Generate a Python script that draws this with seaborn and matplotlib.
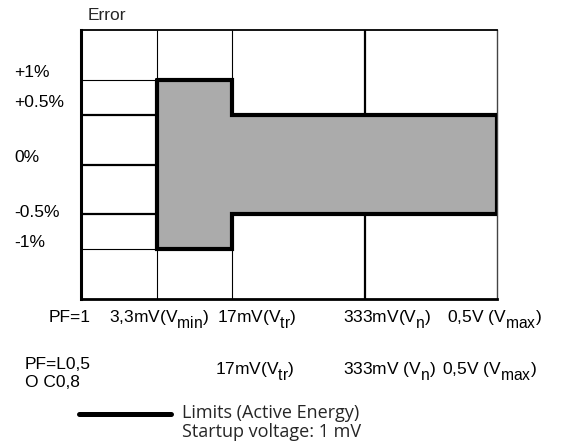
import numpy as np
import matplotlib
matplotlib.use("Agg")
import matplotlib.pyplot as plt
from matplotlib.lines import Line2D
import seaborn as sns

try:  # larger, lower subscripts, like the reference drawing
    import matplotlib._mathtext as _mt
    _mt.SHRINK_FACTOR = 0.9
    _mt.FontConstantsBase.sub1 = 0.75
    _mt.FontConstantsBase.subdrop = 0.6
except Exception:
    pass

# ---------------- data ----------------
voltages_mv = [1, 3.3, 17, 333, 500]          # startup, Vmin, Vtr, Vn, Vmax
error_levels = [-1.0, -0.5, 0.0, 0.5, 1.0]
error_labels = ["-1%", "-0.5%", "0%", "+0.5%", "+1%"]
limit_x = [3.3, 17, 500]                        # segment boundaries (mV)
limit_upper = [1.0, 0.5]                        # % upper limit per segment
limit_lower = [-1.0, -0.5]                      # % lower limit per segment
pf1_values = [1, 3.3, 17, 333, 500]
pf1_labels = ["PF=1", r"3,3mV(V$\mathregular{_{min}}$)", r"17mV(V$\mathregular{_{tr}}$)",
              r"333mV(V$\mathregular{_{n}}$)", r"0,5V (V$\mathregular{_{max}}$)"]
pf05_values = [1, 17, 333, 500]
pf05_labels = ["PF=L0,5\nO C0,8", r"17mV(V$\mathregular{_{tr}}$)",
               r"333mV (V$\mathregular{_{n}}$)", r"0,5V (V$\mathregular{_{max}}$)"]
legend_lines = ["Limits (Active Energy)", "Startup voltage: 1 mV"]

# ---------------- style ----------------
sns.set_theme(style="white")
plt.rcParams["font.family"] = ["Liberation Sans", "DejaVu Sans"]
plt.rcParams["mathtext.fontset"] = "custom"
plt.rcParams["mathtext.rm"] = "Liberation Sans"

W, H = 566, 447
fig = plt.figure(figsize=(W / 100, H / 100), dpi=100)
ax = fig.add_axes([81 / W, (H - 299) / H, 416 / W, 269 / H])


def piecewise(xp, fp):
    xp = np.asarray(xp, float)
    fp = np.asarray(fp, float)

    def f(x):
        x = np.asarray(x, float)
        y = np.interp(x, xp, fp)
        y = np.where(x < xp[0], fp[0] + (x - xp[0]) * (fp[1] - fp[0]) / (xp[1] - xp[0]), y)
        y = np.where(x > xp[-1], fp[-1] + (x - xp[-1]) * (fp[-1] - fp[-2]) / (xp[-1] - xp[-2]), y)
        return y
    return f


# non-uniform axis scales (schematic diagram)
x_knots, x_disp = voltages_mv, [0, 1, 2, 3.76, 5.5]
y_knots, y_disp = [-2, -1, -0.5, 0, 0.5, 1, 2], [-2.7, -1.7, -1, 0, 1, 1.7, 2.7]
ax.set_xscale("function", functions=(piecewise(x_knots, x_disp), piecewise(x_disp, x_knots)))
ax.set_yscale("function", functions=(piecewise(y_knots, y_disp), piecewise(y_disp, y_knots)))
ax.set_xlim(voltages_mv[0], voltages_mv[-1])
ax.set_ylim(-2, 2)
ax.set_xticks([])
ax.set_yticks([])
ax.minorticks_off()

# grid lines
h_widths = [0.8, 1.6, 1.6, 1.6, 0.8]
for lvl, lw in zip(error_levels, h_widths):
    ax.hlines(lvl, voltages_mv[0], voltages_mv[1], color="black", lw=lw, zorder=1)
v_widths = [0.8, 0.8, 1.6]
for v, lw in zip(voltages_mv[1:4], v_widths):
    ax.vlines(v, -2, 2, color="black", lw=lw, zorder=1)

# limits polygon
xs, ys = [], []
for i, u in enumerate(limit_upper):
    xs += [limit_x[i], limit_x[i + 1]]
    ys += [u, u]
for i in reversed(range(len(limit_lower))):
    xs += [limit_x[i + 1], limit_x[i]]
    ys += [limit_lower[i], limit_lower[i]]
ax.fill(xs, ys, color="#ababab", zorder=2, lw=0)
sns.lineplot(x=xs + [xs[0]], y=ys + [ys[0]], sort=False, estimator=None, ax=ax,
             color="black", lw=3, zorder=3, solid_joinstyle="miter")

# spines
for side, lw in {"left": 2.2, "bottom": 2.0, "top": 1.3, "right": 1.0}.items():
    ax.spines[side].set_visible(True)
    ax.spines[side].set_color("black")
    ax.spines[side].set_linewidth(lw)
ax.spines["right"].set_color("#444444")

FS = 12.5
# y labels
y_offsets = [-7, -2, -7, -12, -7]
for lvl, lab, off in zip(error_levels, error_labels, y_offsets):
    ax.annotate(lab, xy=(14, lvl), xycoords=("figure pixels", "data"),
                xytext=(0, -off), textcoords="offset pixels",
                ha="left", va="center", fontsize=FS, color="black")

fig.text(88 / W, (H - 20) / H, "Error", fontsize=FS, ha="left", va="baseline")

# x labels row 1 (PF=1)
row1_dx = [-32, -48, -15, -22, -50]
for v, lab, dx in zip(pf1_values, pf1_labels, row1_dx):
    ax.annotate(lab, xy=(v, 0), xycoords=("data", "axes fraction"),
                xytext=(dx, -23), textcoords="offset pixels",
                ha="left", va="baseline", fontsize=FS, color="black")

# x labels row 2 (PF=L0,5 / C0,8)
row2_dx = [-56, -17, -22, -55]
for v, lab, dx in zip(pf05_values, pf05_labels, row2_dx):
    if "\n" in lab:
        ax.annotate(lab, xy=(v, 0), xycoords=("data", "axes fraction"),
                    xytext=(dx, -58), textcoords="offset pixels",
                    ha="left", va="top", fontsize=FS, color="black", linespacing=1.25)
    else:
        ax.annotate(lab, xy=(v, 0), xycoords=("data", "axes fraction"),
                    xytext=(dx, -75), textcoords="offset pixels",
                    ha="left", va="baseline", fontsize=FS, color="black")

# legend
fig.add_artist(Line2D([79 / W, 171 / W], [(H - 414) / H, (H - 414) / H],
                      color="black", lw=3.6, transform=fig.transFigure))
fig.text(182 / W, (H - 418) / H, legend_lines[0], fontsize=13, family="Open Sans",
         ha="left", va="baseline")
fig.text(182 / W, (H - 437) / H, legend_lines[1], fontsize=13, family="Open Sans",
         ha="left", va="baseline")

fig.savefig("out.png", dpi=100, facecolor="white")
